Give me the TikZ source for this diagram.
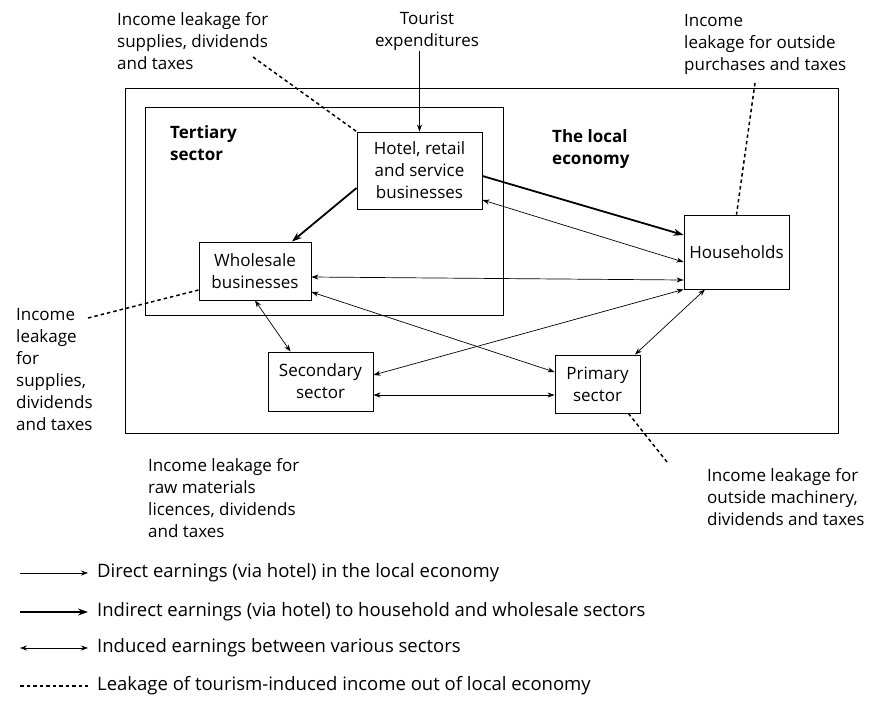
\documentclass[tikz,border=0pt]{standalone}
\usepackage{fontspec}
\setmainfont{Open Sans}
\usetikzlibrary{arrows.meta}

\begin{document}
\begin{tikzpicture}
  [x=1pt,y=-1pt,every node/.style={font=\fontsize{17}{22}\selectfont}]
 \tikzset{box/.style={draw,line width=0.9pt,align=center,inner sep=0pt},
  txt/.style={align=left,anchor=north west,inner sep=0pt},
  keytxt/.style={anchor=west,inner sep=0pt,font=\fontsize{18.5}{22}\selectfont},
  direct/.style={-{Stealth[length=7pt,width=5pt]},line width=0.7pt},
  indirect/.style={-{Stealth[length=10pt,width=7pt]},line width=1.8pt},
  induced/.style={{Stealth[length=7pt,width=5pt]}-{Stealth[length=7pt,width=5pt]},line width=0.7pt},
  leak/.style={dash pattern=on 3.5pt off 3pt,line width=1.5pt}}
 \useasboundingbox (0,0) rectangle (870,718);

 % frames
 \node[box,anchor=north west,minimum width=713pt,minimum height=345pt] (economy) at (125,88) {};
 \node[box,anchor=north west,minimum width=358pt,minimum height=208pt] (tertiary) at (145,107) {};
 \node[txt,font=\fontsize{17}{22}\selectfont\bfseries] (tertlab) at (170,125) {Tertiary\\sector};
 \node[txt,font=\fontsize{17}{22}\selectfont\bfseries] (econlab) at (552,129) {The local\\economy};

 % sectors
 \node[box,minimum width=125pt,minimum height=77pt] (hotel) at (419.5,170.5) {Hotel, retail\\and service\\businesses};
 \node[box,minimum width=112pt,minimum height=58pt] (wholesale) at (255,271) {Wholesale\\businesses};
 \node[box,minimum width=105pt,minimum height=74pt] (households) at (736.5,252) {Households};
 \node[box,minimum width=105pt,minimum height=59pt] (secondary) at (320.5,381.5) {Secondary\\sector};
 \node[box,minimum width=85pt,minimum height=58pt] (primary) at (597.5,384) {Primary\\sector};

 % leakage texts
 \node[txt,align=center,anchor=north] (tourist) at (427,12) {Tourist\\expenditures};
 \node[txt] (leakhotel) at (117,12) {Income leakage for\\supplies, dividends\\and taxes};
 \node[txt] (leakhouse) at (684,14) {Income\\leakage for outside\\purchases and taxes};
 \node[txt] (leakwhole) at (16,308) {Income\\leakage\\for\\supplies,\\dividends\\and taxes};
 \node[txt] (leakraw) at (148,458) {Income leakage for\\raw materials\\licences, dividends\\and taxes};
 \node[txt] (leakmach) at (707,468) {Income leakage for\\outside machinery,\\dividends and taxes};
 \coordinate (lh) at (253,57);
 \coordinate (lo) at (755,83);
 \coordinate (lw) at (88,318);
 \coordinate (lm) at (667,462);

 \draw[direct] (tourist.south -| hotel.north) -- (hotel.north);
 \draw[indirect] ([shift={(0,17.5)}]hotel.west) -- ([shift={(37,0)}]wholesale.north);
 \draw[indirect] ([shift={(0,5.5)}]hotel.east) -- ([shift={(0,-17)}]households.west);

 \foreach \from/\fs/\to/\ts in {hotel.east/{0,29.5}/households.west/{0,10},
   wholesale.east/{0,6}/households.west/{0,28},
   wholesale.east/{0,21}/primary.west/{0,-12},
   secondary.east/{0,-6.5}/households.south west/{0,0},
   secondary.east/{0,13.5}/primary.west/{0,11},
   wholesale.south/{0,0}/secondary.north/{-30,0},
   households.south/{-31.5,0}/primary.north/{37.5,0}}
    \draw[induced] ([shift={(\fs)}]\from) -- ([shift={(\ts)}]\to);

 \draw[leak] (lh) -- (hotel.north west);
 \draw[leak] (lo) -- (households.north);
 \draw[leak] ([shift={(0,19)}]wholesale.west) -- (lw);
 \draw[leak] ([shift={(-12,0)}]primary.south east) -- (lm);

 % key
 \foreach \i/\y in {1/573,2/612,3/648,4/686}{
  \coordinate (ka\i) at (20,\y);
  \coordinate (kb\i) at (88,\y);}
 \draw[direct] (ka1) -- (kb1);
 \draw[indirect,line width=1.4pt] (ka2) -- (kb2);
 \draw[induced] (ka3) -- (kb3);
 \draw[leak] (ka4) -- (kb4);
 \node[keytxt] (key1) at (97,573) {Direct earnings (via hotel) in the local economy};
 \node[keytxt] (key2) at (97,612) {Indirect earnings (via hotel) to household and wholesale sectors};
 \node[keytxt] (key3) at (97,648) {Induced earnings between various sectors};
 \node[keytxt] (key4) at (97,686) {Leakage of tourism-induced income out of local economy};

\end{tikzpicture}
\end{document}
